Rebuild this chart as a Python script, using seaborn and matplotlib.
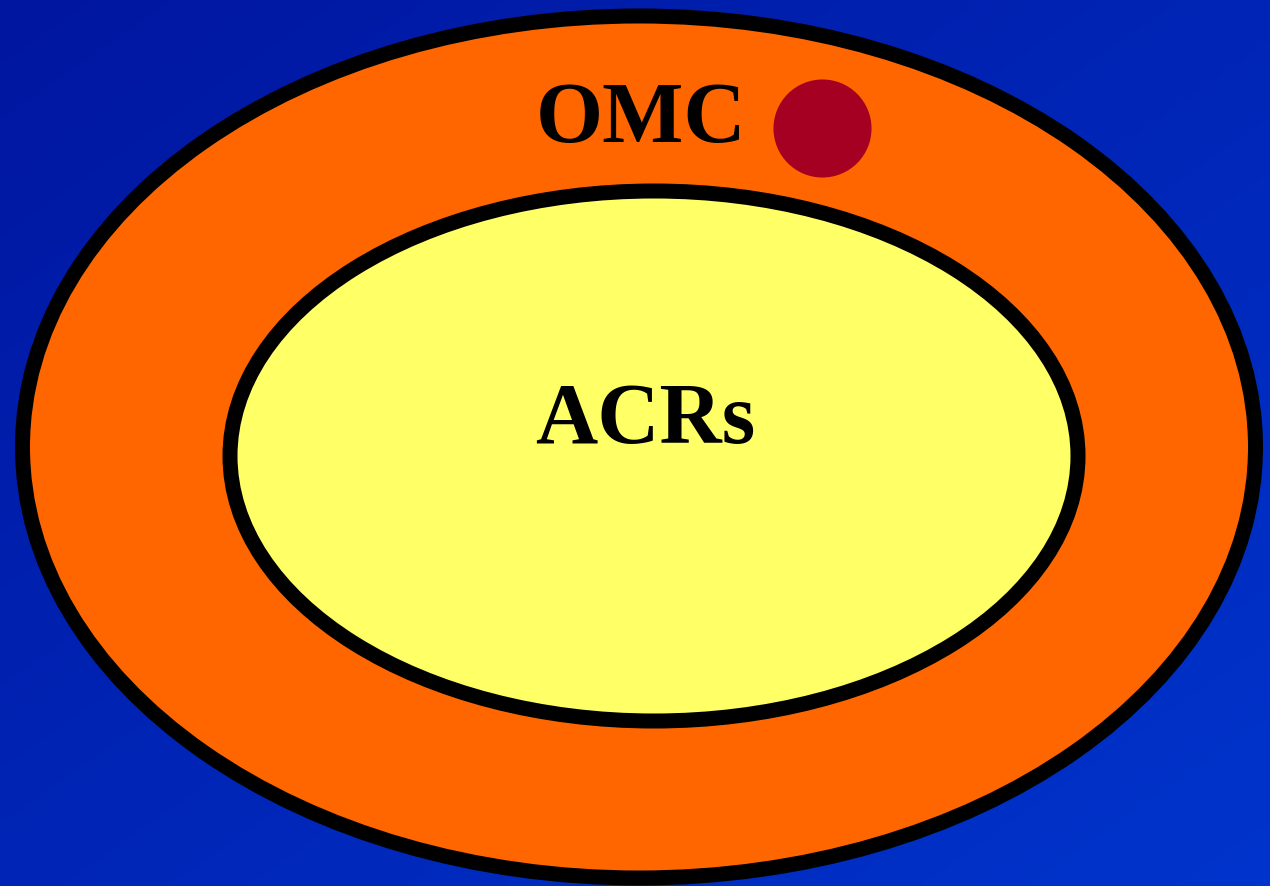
import matplotlib
matplotlib.use("Agg")
import matplotlib.pyplot as plt
from matplotlib.patches import Ellipse
from matplotlib.colors import LinearSegmentedColormap
import seaborn as sns
import numpy as np
import pandas as pd

# labels and colours of the two nested regions
regions = ["OMC", "ACRs"]
fill_colors = ["#ff6600", "#ffff66"]
marker_labels = ["OMC"]
marker_color = "#a50021"

W, H = 1270, 887

sns.set_style("white")
plt.rcParams["font.family"] = ["Liberation Serif", "DejaVu Serif"]

fig = plt.figure(figsize=(W / 100, H / 100), dpi=100)
ax = fig.add_axes([0, 0, 1, 1])

# background: diagonal blue gradient
yy, xx = np.mgrid[0:H:4, 0:W:4]
grad = (xx / W + yy / H) / 2
bg = LinearSegmentedColormap.from_list("bg", ["#0016a0", "#0034cc"])
ax.imshow(grad, cmap=bg, extent=[0, W, H, 0], aspect="auto", zorder=0)

# outer and inner ellipses
ax.add_patch(Ellipse((639, 448), 1233, 862, facecolor=fill_colors[0],
                     edgecolor="black", linewidth=10.8, zorder=1))
ax.add_patch(Ellipse((654, 457), 848, 530, facecolor=fill_colors[1],
                     edgecolor="black", linewidth=10.8, zorder=2))

# red dot next to OMC label
dot = pd.DataFrame({"x": [822], "y": [129], "label": marker_labels})
sns.scatterplot(data=dot, x="x", y="y", s=4985, color=marker_color,
                linewidth=0, ax=ax, zorder=3, legend=False)

ax.text(641.5, 142, regions[0], fontsize=62, fontweight="bold",
        ha="center", va="baseline", color="black", zorder=4)
ax.text(645.5, 443, regions[1], fontsize=62, fontweight="bold",
        ha="center", va="baseline", color="black", zorder=4)

ax.set_xlim(0, W)
ax.set_ylim(H, 0)
ax.axis("off")

fig.savefig("out.png", dpi=100)
